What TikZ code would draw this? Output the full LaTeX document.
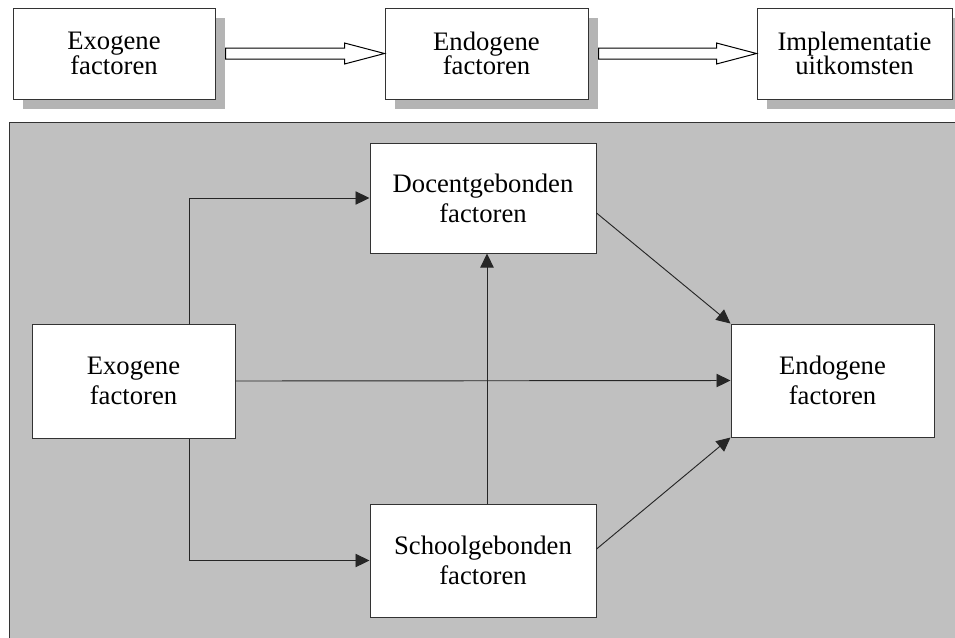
\documentclass[tikz,border=0pt]{standalone}
\usepackage{fontspec}
\setmainfont{Liberation Serif}
\usetikzlibrary{arrows.meta,calc,shadows}
\definecolor{panelgray}{RGB}{192,192,192}
\definecolor{shadowgray}{RGB}{180,180,180}
\begin{document}
\begin{tikzpicture}[x=0.75pt,y=-0.75pt,
  box/.style={draw=black!80,line width=0.75pt,fill=white,align=center,
    inner sep=0pt,font=\fontsize{20}{22.5}\selectfont},
  topbox/.style={box,font=\fontsize{20}{18.5}\selectfont,
    drop shadow={opacity=1,fill=shadowgray,shadow xshift=7.5pt,shadow yshift=-7.5pt}},
  link/.style={draw=black!85,line width=0.7pt,-{Triangle[length=10.5pt,width=10pt]}},
  hollow/.style={draw=black,line width=0.75pt,fill=white,line join=miter}]
\useasboundingbox (0,0) rectangle (955,637);
\begin{scope}
\clip (0,0) rectangle (955,637);

% top row: the three stages
\node[topbox,minimum width=151.5pt,minimum height=68.25pt] (t1) at (114,53.5) {Exogene\\factoren};
\node[topbox,minimum width=152.25pt,minimum height=68.25pt] (t2) at (486.5,53.5) {Endogene\\factoren};
\node[topbox,minimum width=146.25pt,minimum height=68.25pt] (t3) at (854.5,53.5) {Implementatie\\uitkomsten};

% hollow block arrows between the stages
\draw[hollow] ($(t1.east)+(10,-5.5)$) -- ($(t2.west)+(-40,-5.5)$) -- ($(t2.west)+(-40,-10.5)$)
  -- (t2.west) -- ($(t2.west)+(-40,10.5)$) -- ($(t2.west)+(-40,5.5)$) -- ($(t1.east)+(10,5.5)$) -- cycle;
\draw[hollow] ($(t2.east)+(10,-5.5)$) -- ($(t3.west)+(-40,-5.5)$) -- ($(t3.west)+(-40,-10.5)$)
  -- (t3.west) -- ($(t3.west)+(-40,10.5)$) -- ($(t3.west)+(-40,5.5)$) -- ($(t2.east)+(10,5.5)$) -- cycle;

% grey panel with the detailed model
\draw[fill=panelgray,draw=black!80,line width=0.75pt] (9,122) rectangle (975,660);

\node[box,minimum width=152.25pt,minimum height=85.5pt] (exo) at (133.5,381) {Exogene\\factoren};
\node[box,minimum width=169.5pt,minimum height=82.5pt] (doc) at (483,198) {Docentgebonden\\factoren};
\node[box,minimum width=169.5pt,minimum height=84.75pt] (school) at (483,560.5) {Schoolgebonden\\factoren};
\node[box,minimum width=152.25pt,minimum height=84.75pt] (endo) at (832.5,380.5) {Endogene\\factoren};

\coordinate (jx) at (189,0);
\coordinate (vx) at (487,0);

\draw[link] (exo.north -| jx) |- (doc.west);
\draw[link] (exo.south -| jx) |- (school.west);
\draw[link] (exo.east) -- (endo.west);
\draw[link] (school.north -| vx) -- (doc.south -| vx);
\draw[link] ([yshift=-11.25pt]doc.east) -- (endo.north west);
\draw[link] ([yshift=8.6pt]school.east) -- (endo.south west);
\end{scope}
\end{tikzpicture}
\end{document}
